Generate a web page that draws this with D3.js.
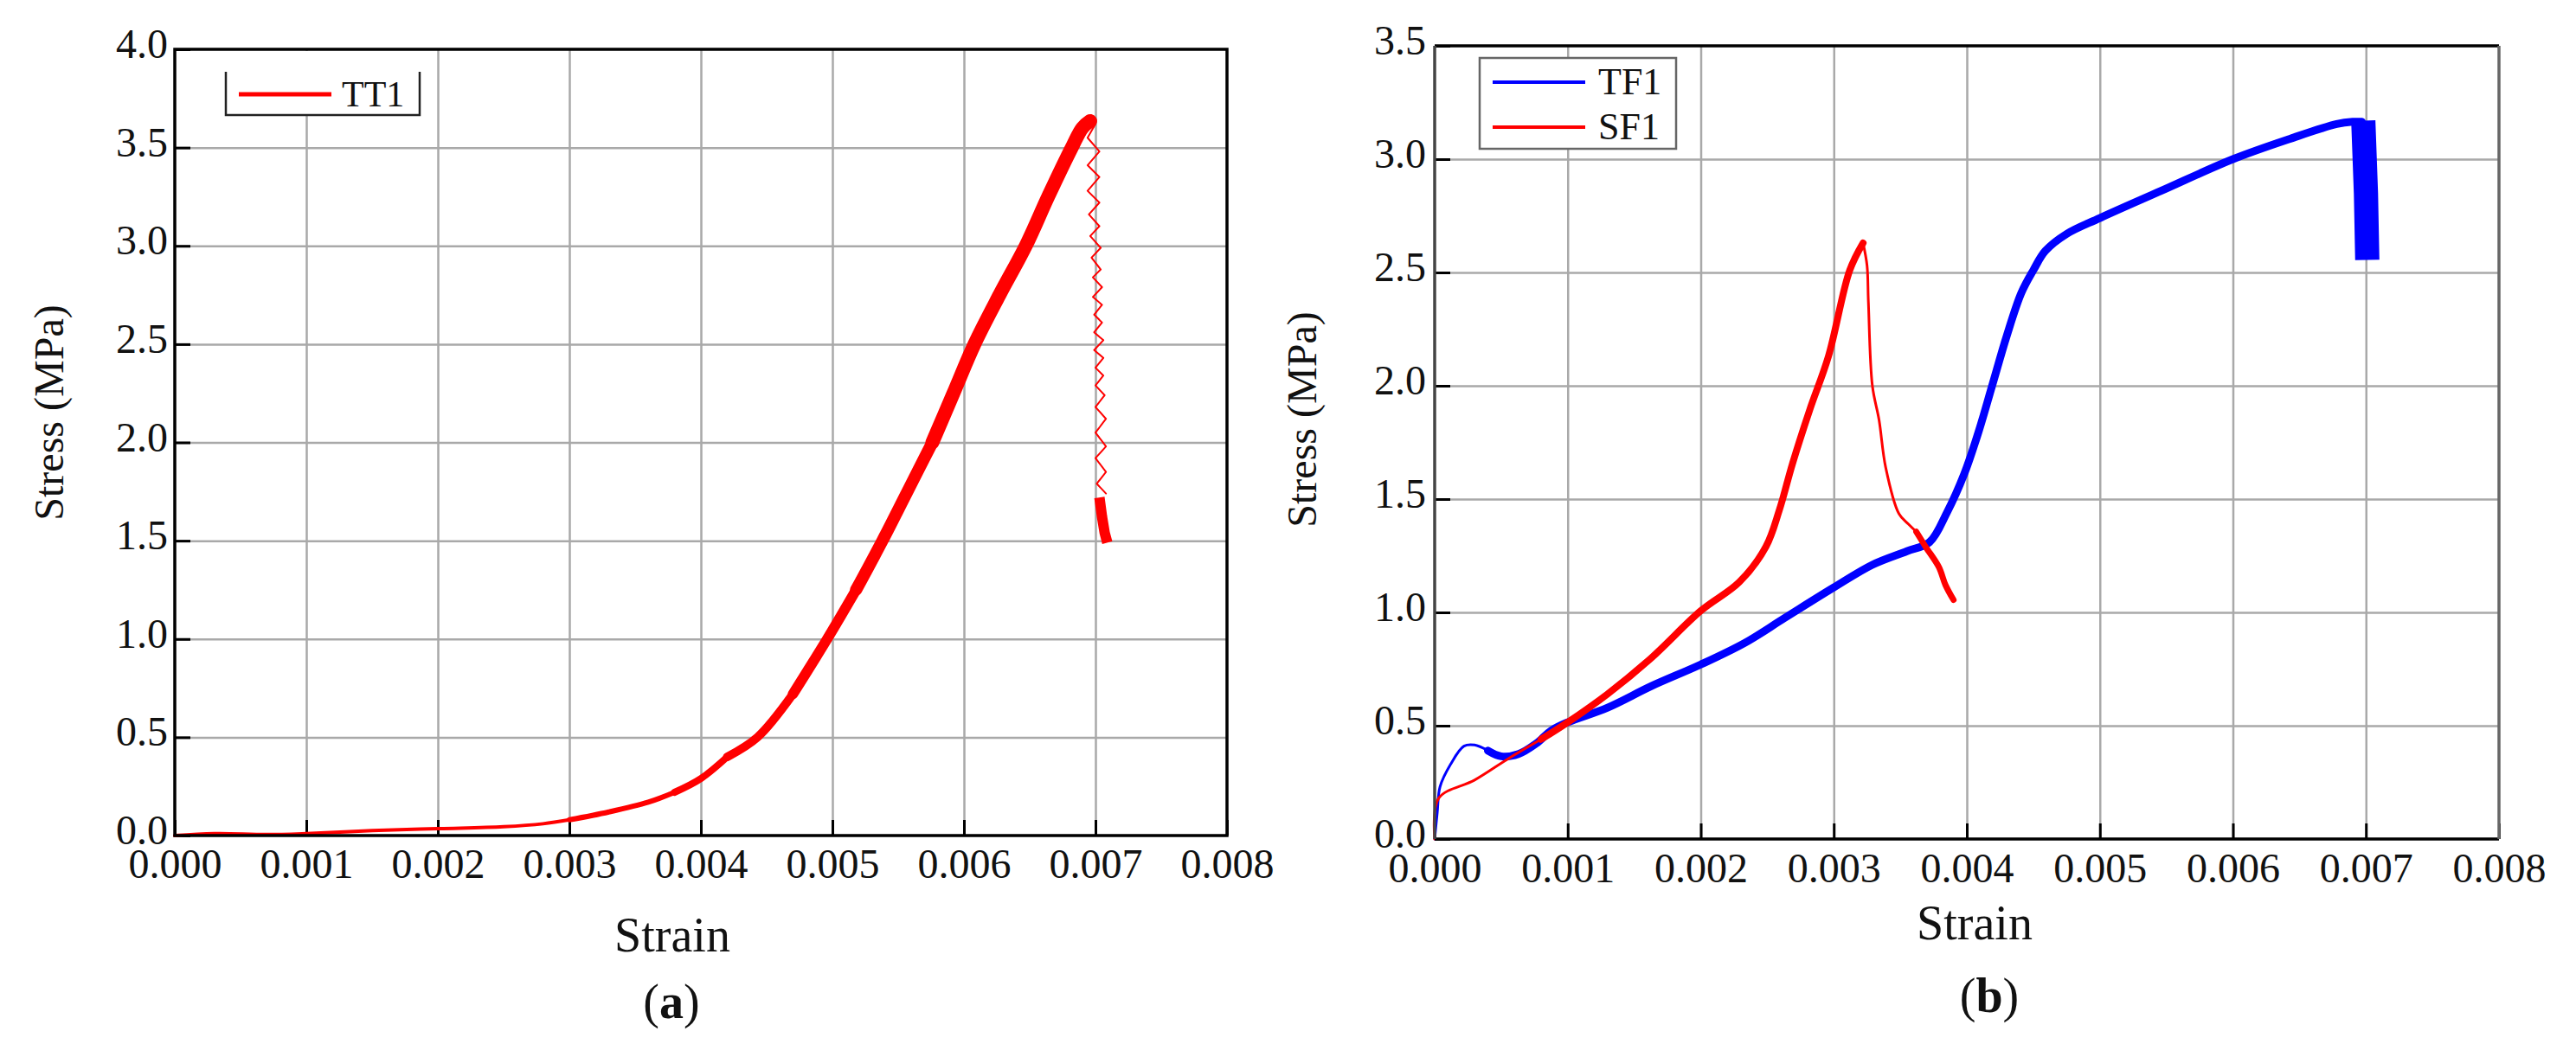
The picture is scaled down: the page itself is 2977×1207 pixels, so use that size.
<!DOCTYPE html>
<html lang="en">
<head>
<meta charset="UTF-8">
<title>Stress-strain curves</title>
<script src="https://d3js.org/d3.v7.min.js"></script>
<style>
  body { margin: 0; background: #fff; }
  svg text { font-family: "Liberation Serif", "Times New Roman", serif; fill: #111; }
</style>
</head>
<body>
<svg id="canvas"></svg>
<script>
// ---- values ----
let strainTicks = [0, 0.001, 0.002, 0.003, 0.004, 0.005, 0.006, 0.007, 0.008]
let stressTicksA = [0, 0.5, 1.0, 1.5, 2.0, 2.5, 3.0, 3.5, 4.0]
let stressTicksB = [0, 0.5, 1.0, 1.5, 2.0, 2.5, 3.0, 3.5]

// (a) TT1 : main rise, zigzag drop, final block
let tt1Strain = [0, 0.0003, 0.0007, 0.0010, 0.0015, 0.0020, 0.0025, 0.0028, 0.0030, 0.0033, 0.0036, 0.0038, 0.0040, 0.0042,
                 0.00443, 0.0047, 0.00496, 0.00518, 0.00538, 0.00557, 0.00576, 0.00592, 0.00608, 0.00627, 0.00647, 0.00664,
                 0.00682, 0.00690, 0.00696]
let tt1Stress = [0, 0.01, 0.005, 0.01, 0.025, 0.035, 0.045, 0.06, 0.08, 0.12, 0.17, 0.22, 0.29, 0.40,
                 0.50, 0.72, 1.00, 1.25, 1.50, 1.75, 2.00, 2.25, 2.50, 2.75, 3.00, 3.25,
                 3.50, 3.60, 3.635]
let tt1DropStrain = [0.00700, 0.00694, 0.00703, 0.00694, 0.00703, 0.00694, 0.00703, 0.00695, 0.00703, 0.00696, 0.00704,
                     0.00697, 0.00704, 0.00698, 0.00705, 0.00698, 0.00705, 0.00699, 0.00705, 0.00699, 0.00706, 0.00699,
                     0.00706, 0.00700, 0.00706, 0.00700, 0.00707, 0.00700, 0.00708, 0.00700, 0.00708, 0.00700, 0.00708,
                     0.00701, 0.00708]
let tt1DropStress = [3.62, 3.55, 3.48, 3.41, 3.35, 3.28, 3.22, 3.16, 3.10, 3.05, 2.99,
                     2.94, 2.88, 2.84, 2.79, 2.74, 2.70, 2.65, 2.61, 2.56, 2.52, 2.47,
                     2.43, 2.38, 2.34, 2.29, 2.24, 2.18, 2.12, 2.05, 1.98, 1.92, 1.85,
                     1.79, 1.74]
let tt1EndStrain = [0.00703, 0.00705, 0.00707, 0.00709]
let tt1EndStress = [1.72, 1.62, 1.54, 1.49]

// (b) TF1
let tf1Strain = [0, 0.00002, 0.00004, 0.00012, 0.00022, 0.0003, 0.0004,
                 0.0005, 0.00063, 0.00076, 0.00088, 0.0010, 0.0013, 0.00163, 0.0020, 0.00233, 0.00263, 0.0030, 0.00329,
                 0.00355, 0.00372, 0.00385, 0.00398, 0.00409, 0.00419, 0.0043, 0.00441, 0.0045, 0.00459, 0.00475,
                 0.0050, 0.00546, 0.0060, 0.00643, 0.00678, 0.0069, 0.00697]
let tf1Stress = [0, 0.12, 0.23, 0.33, 0.41, 0.415, 0.39,
                 0.365, 0.375, 0.42, 0.48, 0.515, 0.58, 0.675, 0.77, 0.865, 0.975, 1.11, 1.21,
                 1.27, 1.31, 1.44, 1.61, 1.80, 2.00, 2.22, 2.41, 2.51, 2.595, 2.67,
                 2.74, 2.86, 3.00, 3.09, 3.155, 3.165, 3.165]
let tf1DropStrain = [0.00698, 0.00700, 0.00701]
let tf1DropStress = [3.17, 2.85, 2.555]

// (b) SF1
let sf1Strain = [0, 0.00003, 0.0003, 0.00056, 0.0008, 0.0010, 0.0013, 0.00163, 0.0020, 0.00229, 0.00249, 0.00259,
                 0.00269, 0.00282, 0.00296, 0.00312, 0.00322,
                 0.00325, 0.00326, 0.00329, 0.00334, 0.00339, 0.00349, 0.00356, 0.00362,
                 0.00369, 0.00379, 0.00384, 0.0039]
let sf1Stress = [0, 0.18, 0.26, 0.357, 0.44, 0.515, 0.64, 0.80, 1.007, 1.134, 1.29, 1.45,
                 1.657, 1.895, 2.13, 2.51, 2.63,
                 2.53, 2.37, 2.0, 1.85, 1.64, 1.435, 1.39, 1.356,
                 1.29, 1.2, 1.12, 1.055]

let width = 2977
let height = 1207

let svg = d3.select("#canvas")
  .attr("width", width)
  .attr("height", height)

svg.append("rect").attr("width", width).attr("height", height).attr("fill", "#fff")

let makePanel = (opt) => {
  let x = d3.scaleLinear().domain([0, 0.008]).range([opt.left, opt.right])
  let y = d3.scaleLinear().domain([0, opt.yMax]).range([opt.bottom, opt.top])
  let g = svg.append("g")

  // grid
  g.append("g")
    .attr("transform", "translate(0," + opt.bottom + ")")
    .call(d3.axisBottom(x).tickValues(strainTicks.slice(1, -1)).tickSize(-(opt.bottom - opt.top)).tickFormat(""))
    .call(s => s.select(".domain").remove())
    .selectAll("line").attr("stroke", "#a9a9a9").attr("stroke-width", 2.5)
  g.append("g")
    .attr("transform", "translate(" + opt.left + ",0)")
    .call(d3.axisLeft(y).tickValues(opt.yTicks.slice(1, -1)).tickSize(-(opt.right - opt.left)).tickFormat(""))
    .call(s => s.select(".domain").remove())
    .selectAll("line").attr("stroke", "#a9a9a9").attr("stroke-width", 2.5)

  // ticks + labels
  let xa = g.append("g")
    .attr("transform", "translate(0," + opt.bottom + ")")
    .call(d3.axisBottom(x).tickValues(strainTicks).tickFormat(d3.format(".3f"))
      .tickSizeInner(-18).tickSizeOuter(0).tickPadding(opt.xPad))
  xa.select(".domain").remove()
  xa.selectAll("line").attr("stroke", "#000").attr("stroke-width", 3)
  xa.selectAll("text").attr("font-size", 48).attr("font-family", "Liberation Serif").attr("fill", "#111")

  let ya = g.append("g")
    .attr("transform", "translate(" + opt.left + ",0)")
    .call(d3.axisLeft(y).tickValues(opt.yTicks).tickFormat(d3.format(".1f"))
      .tickSizeInner(-18).tickSizeOuter(0).tickPadding(opt.yPad))
  ya.select(".domain").remove()
  ya.selectAll("line").attr("stroke", "#000").attr("stroke-width", 3)
  ya.selectAll("text").attr("font-size", 48).attr("font-family", "Liberation Serif").attr("fill", "#111").attr("dy", "0.2em")

  return { x, y, g }
}

// draw part of a series (from..to index) with a given stroke
let line = (p, xs, ys, color, w, from, to, cap, smooth) => {
  let pts = xs.map((d, i) => [d, ys[i]]).slice(from, to)
  p.g.append("path")
    .datum(pts)
    .attr("fill", "none")
    .attr("stroke", color)
    .attr("stroke-width", w)
    .attr("stroke-linejoin", "round")
    .attr("stroke-linecap", cap || "round")
    .attr("d", d3.line().curve(smooth ? d3.curveCatmullRom.alpha(0.5) : d3.curveLinear)
      .x(d => p.x(d[0])).y(d => p.y(d[1])))
}

// ---------- panel (a) ----------
let pa = makePanel({ left: 202, right: 1418, top: 57, bottom: 966, yMax: 4, yTicks: stressTicksA, xPad: 15, yPad: 8 })

line(pa, tt1Strain, tt1Stress, "#ff0000", 4, 0, 9, "round", true)
line(pa, tt1Strain, tt1Stress, "#ff0000", 6, 8, 12, "round", true)
line(pa, tt1Strain, tt1Stress, "#ff0000", 8, 11, 14, "round", true)
line(pa, tt1Strain, tt1Stress, "#ff0000", 10, 13, 16, "round", true)
line(pa, tt1Strain, tt1Stress, "#ff0000", 12, 15, 18, "round", true)
line(pa, tt1Strain, tt1Stress, "#ff0000", 14, 17, 21, "round", true)
line(pa, tt1Strain, tt1Stress, "#ff0000", 16, 20, 29, "round", true)
line(pa, tt1DropStrain, tt1DropStress, "#ff0000", 2, 0, 35)
line(pa, tt1EndStrain, tt1EndStress, "#ff0000", 12, 0, 4, "butt")

// frame (a)
pa.g.append("rect").attr("x", 202).attr("y", 57).attr("width", 1418 - 202).attr("height", 966 - 57)
  .attr("fill", "none").attr("stroke", "#000").attr("stroke-width", 3.5)

// legend (a)
pa.g.append("rect").attr("x", 261).attr("y", 59).attr("width", 224).attr("height", 74).attr("fill", "#fff")
pa.g.append("path").attr("d", "M261,83V133H485V83").attr("fill", "none").attr("stroke", "#222").attr("stroke-width", 2.5)
pa.g.append("line").attr("x1", 276).attr("x2", 383).attr("y1", 109).attr("y2", 109).attr("stroke", "#ff0000").attr("stroke-width", 5)
pa.g.append("text").attr("x", 395).attr("y", 123).attr("font-family", "Liberation Sans").attr("font-size", 42).text("TT1")

// titles (a)
svg.append("text").attr("x", 777).attr("y", 1100).attr("text-anchor", "middle").attr("font-size", 56).text("Strain")
svg.append("text").attr("transform", "translate(73,477) rotate(-90)").attr("text-anchor", "middle").attr("font-size", 48).text("Stress (MPa)")
let capA = svg.append("text").attr("x", 776).attr("y", 1177).attr("text-anchor", "middle").attr("font-size", 56)
capA.append("tspan").text("(")
capA.append("tspan").attr("font-weight", "bold").text("a")
capA.append("tspan").text(")")

// ---------- panel (b) ----------
let pb = makePanel({ left: 1658, right: 2888, top: 53, bottom: 970, yMax: 3.5, yTicks: stressTicksB, xPad: 16, yPad: 10 })

line(pb, tf1Strain, tf1Stress, "#0000ff", 3, 0, 7, "round", true)
line(pb, tf1Strain, tf1Stress, "#0000ff", 9, 6, 37, "round", true)
line(pb, tf1DropStrain, tf1DropStress, "#0000ff", 28, 0, 3, "butt")

line(pb, sf1Strain, sf1Stress, "#ff0000", 3, 0, 5, "round", true)
line(pb, sf1Strain, sf1Stress, "#ff0000", 8, 4, 17, "round", true)
line(pb, sf1Strain, sf1Stress, "#ff0000", 3, 16, 25, "round", true)
line(pb, sf1Strain, sf1Stress, "#ff0000", 7, 24, 29, "round", true)

// frame (b)
pb.g.append("line").attr("x1", 1658).attr("x2", 2888).attr("y1", 53).attr("y2", 53).attr("stroke", "#000").attr("stroke-width", 3.5)
pb.g.append("line").attr("x1", 1658).attr("x2", 2888).attr("y1", 970).attr("y2", 970).attr("stroke", "#000").attr("stroke-width", 3.5)
pb.g.append("line").attr("x1", 1658).attr("x2", 1658).attr("y1", 53).attr("y2", 970).attr("stroke", "#444").attr("stroke-width", 3.5)
pb.g.append("line").attr("x1", 2888).attr("x2", 2888).attr("y1", 53).attr("y2", 970).attr("stroke", "#666").attr("stroke-width", 3.5)

// legend (b)
pb.g.append("rect").attr("x", 1710).attr("y", 67).attr("width", 227).attr("height", 105)
  .attr("fill", "#fff").attr("stroke", "#666").attr("stroke-width", 2.5)
pb.g.append("line").attr("x1", 1725).attr("x2", 1832).attr("y1", 95).attr("y2", 95).attr("stroke", "#0000ff").attr("stroke-width", 4)
pb.g.append("line").attr("x1", 1725).attr("x2", 1832).attr("y1", 147).attr("y2", 147).attr("stroke", "#ff0000").attr("stroke-width", 4)
pb.g.append("text").attr("x", 1847).attr("y", 109).attr("font-size", 44).text("TF1")
pb.g.append("text").attr("x", 1847).attr("y", 161).attr("font-size", 44).text("SF1")

// titles (b)
svg.append("text").attr("x", 2282).attr("y", 1086).attr("text-anchor", "middle").attr("font-size", 56).text("Strain")
svg.append("text").attr("transform", "translate(1521,485) rotate(-90)").attr("text-anchor", "middle").attr("font-size", 48).text("Stress (MPa)")
let capB = svg.append("text").attr("x", 2299).attr("y", 1170).attr("text-anchor", "middle").attr("font-size", 56)
capB.append("tspan").text("(")
capB.append("tspan").attr("font-weight", "bold").text("b")
capB.append("tspan").text(")")
</script>
</body>
</html>
